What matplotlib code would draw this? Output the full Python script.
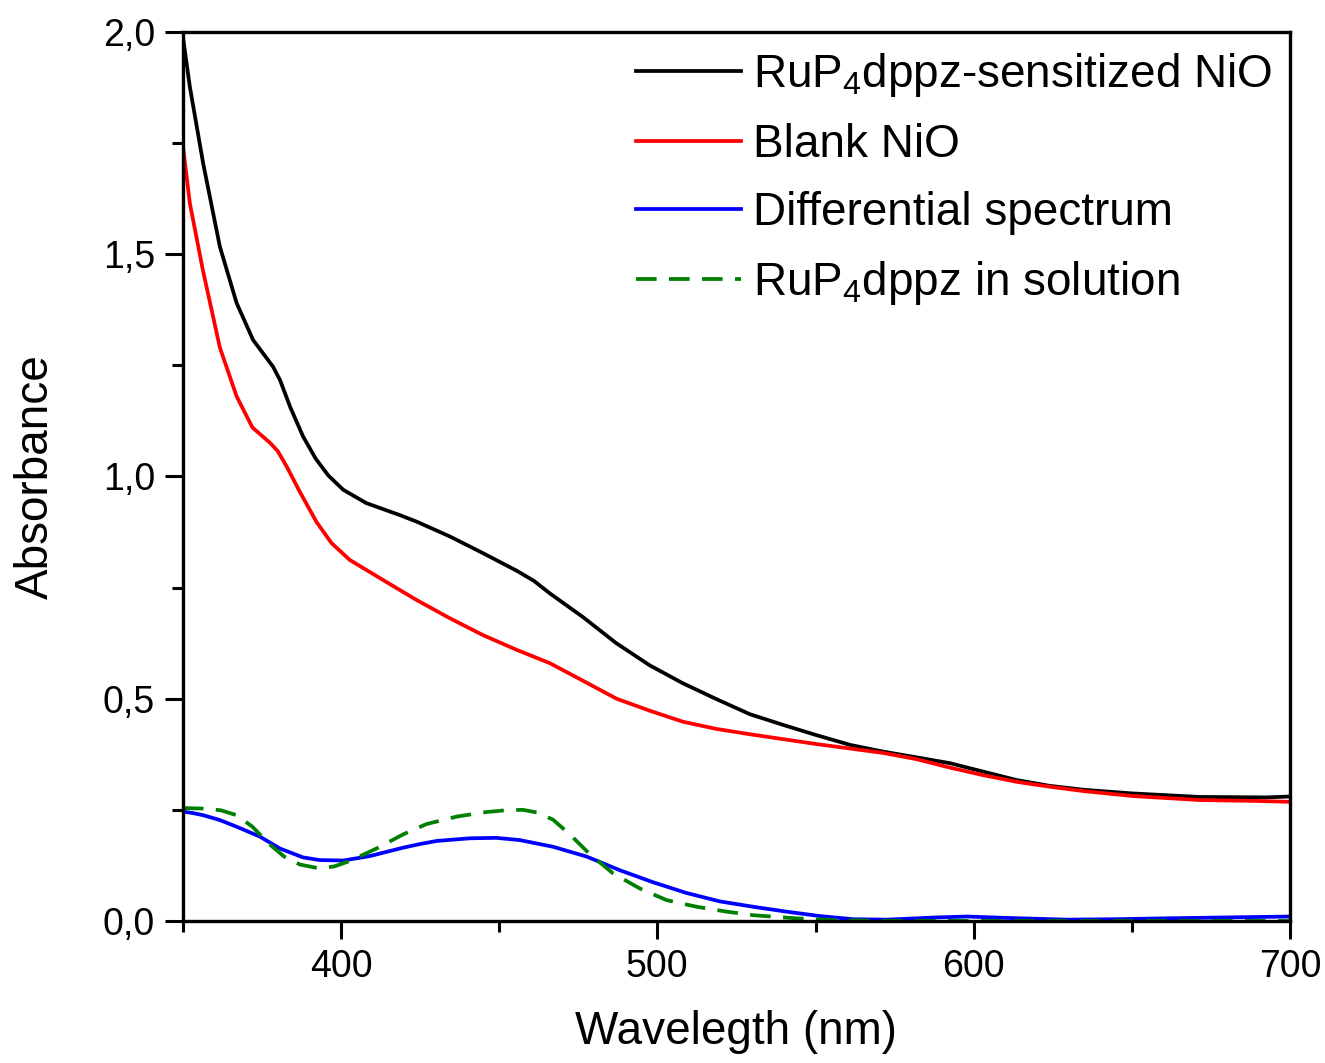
import matplotlib
matplotlib.use("Agg")
import matplotlib.pyplot as plt
from matplotlib.ticker import MultipleLocator, FuncFormatter

plt.rcParams['font.family'] = ['Liberation Sans', 'DejaVu Sans']
plt.rcParams['mathtext.fontset'] = 'custom'
plt.rcParams['mathtext.rm'] = 'Liberation Sans'
plt.rcParams['mathtext.it'] = 'Liberation Sans:italic'
plt.rcParams['mathtext.default'] = 'regular'

# Data
wl_black = [350, 352.2, 356.4, 361.7, 367, 372.2, 378.5, 380.7, 384, 388, 392, 396, 400.7, 408,
            418.6, 424, 434.4, 445, 455.5, 461, 466, 476.6, 487, 497.6, 508, 518.7, 529.3, 539.8,
            550.3, 561, 571.4, 582, 592.5, 603, 613.6, 624, 635, 650, 671.5, 692.6, 700]
abs_black = [1.99, 1.877, 1.705, 1.517, 1.390, 1.307, 1.247, 1.217, 1.155, 1.090, 1.040, 1.002,
             0.970, 0.940, 0.913, 0.898, 0.865, 0.827, 0.788, 0.765, 0.737, 0.683, 0.625, 0.575,
             0.535, 0.499, 0.465, 0.441, 0.418, 0.396, 0.381, 0.368, 0.355, 0.336, 0.317, 0.304,
             0.295, 0.287, 0.279, 0.278, 0.280]

wl_red = [350, 352.2, 356.3, 361.7, 367, 372, 377.5, 380, 383, 387, 392.3, 397, 402.8, 413.3,
          423.9, 434.4, 444.9, 455.5, 466, 476.6, 487.1, 497.6, 508.2, 518.7, 529.3, 539.8,
          550.3, 560.9, 571.4, 581.9, 592.5, 603, 613.6, 624.1, 635, 650.4, 671.5, 690, 700]
abs_red = [1.745, 1.615, 1.465, 1.29, 1.18, 1.11, 1.076, 1.057, 1.02, 0.965, 0.897, 0.850, 0.812,
           0.767, 0.722, 0.681, 0.643, 0.610, 0.580, 0.540, 0.500, 0.473, 0.448, 0.432, 0.420,
           0.409, 0.398, 0.388, 0.378, 0.364, 0.345, 0.328, 0.313, 0.302, 0.292, 0.281, 0.272,
           0.270, 0.268]

wl_blue = [350, 353, 356.4, 361.7, 367, 374.3, 380.7, 388, 393.3, 400.7, 409.1, 419.7, 424.9,
           430.2, 440.7, 449.1, 456.5, 467, 477.6, 488.2, 498.7, 509.2, 519.8, 530.3, 540.8,
           551.4, 561.9, 572.5, 588.3, 598, 610, 629.4, 645, 661, 680, 700]
abs_blue = [0.246, 0.243, 0.238, 0.227, 0.212, 0.190, 0.163, 0.143, 0.137, 0.136, 0.146, 0.165,
            0.173, 0.180, 0.186, 0.187, 0.182, 0.167, 0.145, 0.114, 0.087, 0.063, 0.044, 0.032,
            0.021, 0.011, 0.004, 0.003, 0.008, 0.010, 0.007, 0.003, 0.004, 0.006, 0.008, 0.010]

wl_green = [350, 356, 362, 367, 372, 377, 382, 387, 393.3, 398, 402.8, 411.2, 419.7, 427, 436.7,
            445.9, 452, 457.5, 462, 467, 472.3, 478.7, 486, 494.5, 502.9, 512.4, 521.9, 530.3,
            539.8, 548.2, 556.7, 570, 600, 650, 700]
abs_green = [0.254, 0.253, 0.249, 0.238, 0.212, 0.175, 0.145, 0.127, 0.118, 0.123, 0.135, 0.163,
             0.195, 0.218, 0.235, 0.245, 0.249, 0.250, 0.244, 0.228, 0.195, 0.150, 0.107, 0.073,
             0.047, 0.032, 0.021, 0.013, 0.008, 0.004, 0.002, 0.0005, 0.0, 0.0, 0.0]

labels = ["RuP$_4$dppz-sensitized NiO", "Blank NiO", "Differential spectrum",
          "RuP$_4$dppz in solution"]

fig = plt.figure(figsize=(13.25, 10.63), dpi=100)
ax = fig.add_axes([0.138, 0.1336, 0.8356, 0.8364])

lw = 2.7
ax.plot(wl_black, abs_black, color='black', lw=lw, label=labels[0])
ax.plot(wl_red, abs_red, color='#ff0000', lw=lw, label=labels[1])
ax.plot(wl_blue, abs_blue, color='#0000ff', lw=lw, label=labels[2])
ax.plot(wl_green, abs_green, color='#008000', lw=lw, ls=(0, (5.5, 3.3)), label=labels[3])

ax.set_xlim(350, 700)
ax.set_ylim(0, 2.0)
ax.xaxis.set_major_locator(MultipleLocator(100))
ax.xaxis.set_minor_locator(MultipleLocator(50))
ax.yaxis.set_major_locator(MultipleLocator(0.5))
ax.yaxis.set_minor_locator(MultipleLocator(0.25))
ax.xaxis.set_major_formatter(FuncFormatter(lambda v, p: "" if v < 399 else f"{v:.0f}"))
ax.yaxis.set_major_formatter(FuncFormatter(lambda v, p: f"{v:.1f}".replace('.', ',')))

ax.tick_params(which='both', direction='out', top=False, right=False, width=2.2)
ax.tick_params(which='major', length=13, labelsize=27, pad=7)
ax.tick_params(which='minor', length=8)
for s in ax.spines.values():
    s.set_linewidth(2.4)

ax.set_xlabel("Wavelegth (nm)", fontsize=33, labelpad=18)
ax.set_ylabel("Absorbance", fontsize=33, labelpad=32)

leg = ax.legend(loc='upper right', frameon=False, fontsize=33, handlelength=2.3,
                handletextpad=0.25, labelspacing=0.52, borderaxespad=0.0,
                bbox_to_anchor=(1.0, 0.999))

fig.savefig("out.png", dpi=100)
